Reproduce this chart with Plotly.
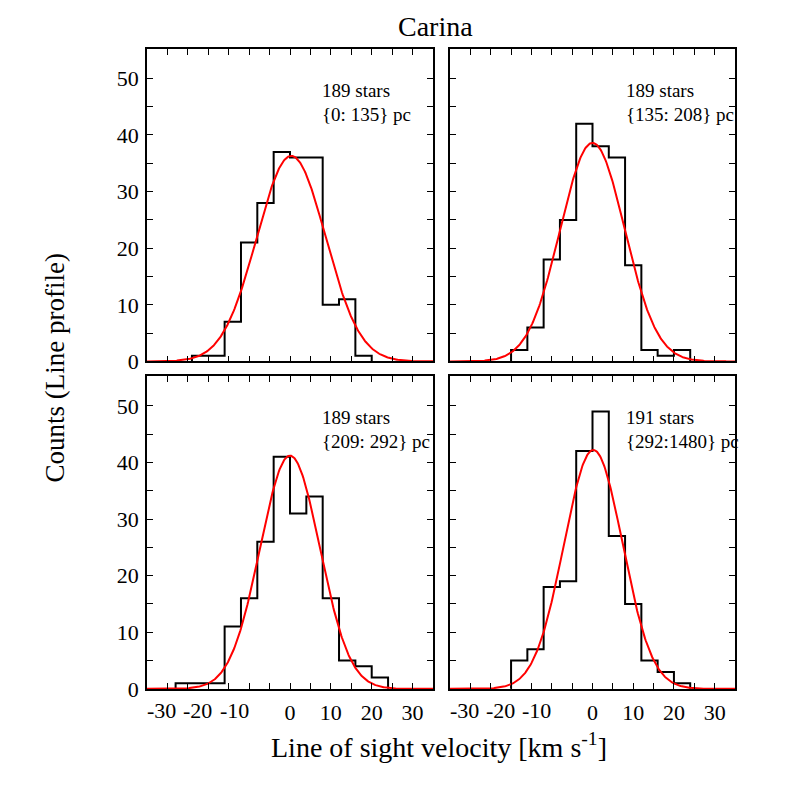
import numpy as np
import plotly.graph_objects as go

# ---- data ----
bin_width = 4
panel_starts = [-24, -20, -28, -20]
counts_p1 = [1, 1, 7, 21, 28, 37, 36, 36, 10, 11, 1]
counts_p2 = [2, 6, 18, 25, 42, 38, 36, 17, 2, 1, 2]
counts_p3 = [1, 1, 1, 11, 16, 26, 41, 31, 34, 16, 5, 4, 2]
counts_p4 = [5, 7, 18, 19, 42, 49, 27, 15, 5, 3, 1]
gauss_amp = [36.3, 38.6, 41.2, 42.2]
gauss_mu = [0.3, 0.0, 0.0, 0.2]
gauss_sigma = [8.4, 7.9, 7.3, 7.2]
star_counts = ["189 stars", "189 stars", "189 stars", "191 stars"]
dist_ranges = ["{0: 135} pc", "{135: 208} pc", "{209: 292} pc", "{292:1480} pc"]
x_tick_vals = list(range(-30, 31, 5))
x_tick_labels = ["-30", "", "-20", "", "-10", "", "0", "", "10", "", "20", "", "30"]
y_tick_vals = list(range(0, 51, 5))
y_tick_labels = ["0", "", "10", "", "20", "", "30", "", "40", "", "50"]
title_text = "Carina"
x_title = "Line of sight velocity [km s<sup>-1</sup>]"
y_title = "Counts (Line profile)"

all_counts = [counts_p1, counts_p2, counts_p3, counts_p4]

# page body has an 8px margin; the captured picture is slightly compressed vertically
OFF = 8
VS = 0.985
W = 786 - 2 * OFF
H = 782
FONT = "Liberation Serif"


def px(x):
    return (x - OFF) / W


def py(y):
    return 1 - (y - OFF) / (VS * H)


# the reference draws its negative x labels shifted left of their ticks;
# those labels are drawn as annotations tied to the axis values, with a pixel nudge
neg_shift = {"-30": -5.5, "-20": -11, "-10": -15}
x_tick_text = ["" if t in neg_shift else t for t in x_tick_labels]

# panel pixel boxes (left, right, top, bottom) in the 786px reference frame
boxes = [(147, 433, 49, 362), (450, 735, 49, 362),
         (147, 433, 377, 690), (450, 735, 377, 690)]

fig = go.Figure()
layout = dict(width=W, height=H, margin=dict(l=0, r=0, t=0, b=0, pad=0),
              plot_bgcolor="white", paper_bgcolor="white", showlegend=False,
              font=dict(family=FONT, color="black"))
annotations = []

XLAB_Y = 712  # vertical centre of the x tick labels (reference pixels)
xs_curve = np.linspace(-35, 35, 400)
for i in range(4):
    n = i + 1
    xa = "x" if n == 1 else f"x{n}"
    ya = "y" if n == 1 else f"y{n}"
    c = all_counts[i]
    edges = [panel_starts[i] + bin_width * k for k in range(len(c) + 1)]
    hx = [edges[0]] + edges + [edges[-1]]
    hy = [0] + list(c) + [c[-1], 0]
    fig.add_trace(go.Scatter(x=hx, y=hy, mode="lines", line_shape="hv",
                             line=dict(color="black", width=2),
                             xaxis=xa, yaxis=ya, hoverinfo="skip"))
    gy = gauss_amp[i] * np.exp(-(xs_curve - gauss_mu[i]) ** 2 / (2 * gauss_sigma[i] ** 2))
    fig.add_trace(go.Scatter(x=xs_curve, y=gy, mode="lines",
                             line=dict(color="red", width=2),
                             xaxis=xa, yaxis=ya, hoverinfo="skip"))
    l, r, t, b = boxes[i]
    bottom_row = i >= 2
    left_col = i % 2 == 0
    xkey = "xaxis" if n == 1 else f"xaxis{n}"
    ykey = "yaxis" if n == 1 else f"yaxis{n}"
    layout[xkey] = dict(domain=[px(l), px(r)], anchor=ya, range=[-35, 35],
                        showline=True, linecolor="black", linewidth=1.8, mirror="ticks",
                        ticks="inside", ticklen=6, tickwidth=1.2, tickcolor="black",
                        tickvals=x_tick_vals, ticktext=x_tick_text, tickangle=0,
                        showticklabels=bottom_row, showgrid=False, zeroline=False,
                        ticklabelstandoff=3,
                        tickfont=dict(size=22, family=FONT))
    layout[ykey] = dict(domain=[py(b), py(t)], anchor=xa, range=[0, 55.2],
                        showline=True, linecolor="black", linewidth=1.8, mirror="ticks",
                        ticks="inside", ticklen=6, tickwidth=1.2, tickcolor="black",
                        tickvals=y_tick_vals, ticktext=y_tick_labels,
                        showticklabels=left_col, showgrid=False, zeroline=False,
                        ticklabelstandoff=2,
                        tickfont=dict(size=22, family=FONT))
    if bottom_row:
        for v, t_ in zip(x_tick_vals, x_tick_labels):
            if t_ in neg_shift:
                annotations.append(dict(x=v, xref=xa, y=py(XLAB_Y), yref="paper",
                                        text=t_, showarrow=False, xanchor="center",
                                        yanchor="middle", xshift=neg_shift[t_],
                                        font=dict(size=22, family=FONT)))

tx = [320, 624, 320, 624]
ty = [91, 91, 418, 418]
for i in range(4):
    annotations.append(dict(x=px(tx[i]), y=py(ty[i]), xref="paper", yref="paper",
                            text=star_counts[i], showarrow=False, xanchor="left",
                            yanchor="middle", font=dict(size=19, family=FONT)))
    annotations.append(dict(x=px(tx[i]), y=py(ty[i] + 24), xref="paper", yref="paper",
                            text=dist_ranges[i], showarrow=False, xanchor="left",
                            yanchor="middle", font=dict(size=19, family=FONT)))
annotations.append(dict(x=px(435), y=py(27), xref="paper", yref="paper", text=title_text,
                        showarrow=False, xanchor="center", yanchor="middle",
                        font=dict(size=28, family=FONT)))
annotations.append(dict(x=px(439), y=py(747), xref="paper", yref="paper",
                        text=x_title, showarrow=False, xanchor="center", yanchor="middle",
                        font=dict(size=28, family=FONT)))
annotations.append(dict(x=px(55), y=py(369), xref="paper", yref="paper",
                        text=y_title, textangle=-90, xanchor="center", yanchor="middle",
                        showarrow=False, font=dict(size=27, family=FONT)))
layout["annotations"] = annotations
fig.update_layout(**layout)
fig.write_html("out.html")
